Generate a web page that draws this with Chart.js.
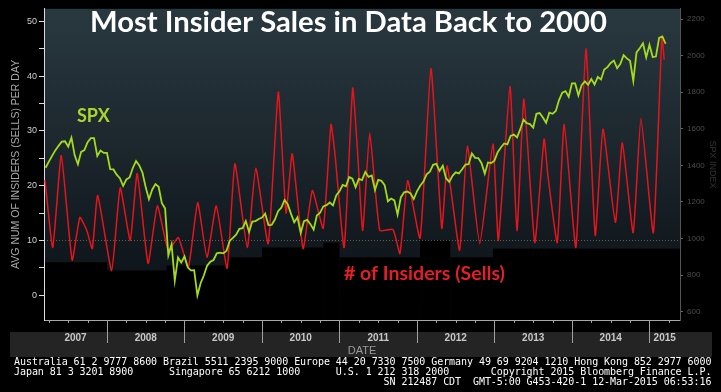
<!DOCTYPE html>
<html>
<head>
<meta charset="utf-8">
<script src="https://cdn.jsdelivr.net/npm/chart.js@4.4.1/dist/chart.umd.min.js"></script>
<style>
  html, body { margin: 0; padding: 0; background: #000; }
  #wrap { position: relative; width: 721px; height: 392px; overflow: hidden; }
  #chart { display: block; }
  #footer { position: absolute; left: 14px; top: 357px; margin: 0; color: #fff;
    font: 10px/10px "DejaVu Sans Mono", monospace; letter-spacing: -0.06px; white-space: pre; }
</style>
</head>
<body>
<div id="wrap">
  <canvas id="chart" width="721" height="392"></canvas>
  <pre id="footer"></pre>
</div>
<script>
const yearLabels = ["2007", "2008", "2009", "2010", "2011", "2012", "2013", "2014", "2015"];

// SPX, one value every half month starting mid-March 2007
const spxStart = 2007.208;
const spxValues = [
  1387, 1421, 1452, 1482, 1507, 1530, 1532, 1503, 1552, 1455, 1406, 1474, 1484, 1527, 1549, 1549, 1451, 1481, 1468, 1468,
  1380, 1378, 1349, 1330, 1288, 1323, 1334, 1386, 1424, 1400, 1360, 1280, 1215, 1267, 1298, 1283, 1193, 1165, 908, 969, 770, 896, 869, 903,
  843, 826, 827, 690, 756, 798, 852, 873, 883, 919, 923, 919, 932, 987, 1004, 1021, 1053, 1057, 1096, 1036, 1093, 1096, 1107, 1115,
  1136, 1074, 1075, 1104, 1150, 1169, 1211, 1187, 1135, 1089, 1116, 1031, 1095, 1102, 1079, 1049, 1126, 1141, 1176, 1183, 1197, 1181, 1236, 1258,
  1293, 1286, 1336, 1327, 1281, 1326, 1320, 1364, 1337, 1345, 1265, 1321, 1316, 1292, 1204, 1219, 1209, 1131, 1225, 1253, 1257, 1247, 1216, 1258,
  1289, 1312, 1351, 1366, 1403, 1408, 1370, 1398, 1330, 1310, 1343, 1362, 1356, 1379, 1405, 1407, 1465, 1441, 1440, 1412, 1355, 1416, 1413, 1426,
  1472, 1498, 1520, 1515, 1561, 1569, 1553, 1598, 1650, 1631, 1626, 1606, 1682, 1686, 1662, 1633, 1688, 1682, 1698, 1757, 1798, 1806, 1775, 1848,
  1848, 1783, 1838, 1859, 1841, 1872, 1842, 1884, 1870, 1924, 1937, 1960, 1973, 1931, 1955, 2003, 1985, 1972, 1862, 2018, 2040, 2068, 1990, 2059,
  1992, 1995, 2097, 2105, 2065
];

// avg number of insiders (sells) per day, turning points
const insDates = [
  2007.20, 2007.30, 2007.41, 2007.55, 2007.65, 2007.74, 2007.81, 2007.88,
  2008.06, 2008.17, 2008.30, 2008.39, 2008.53, 2008.65, 2008.79, 2008.92,
  2009.05, 2009.17, 2009.29, 2009.41, 2009.55, 2009.65, 2009.81, 2009.92,
  2010.08, 2010.21, 2010.31, 2010.39, 2010.53, 2010.65, 2010.79, 2010.89, 2010.94,
  2011.06, 2011.17, 2011.23, 2011.30, 2011.39, 2011.52, 2011.69, 2011.78, 2011.88,
  2012.04, 2012.18, 2012.32, 2012.39, 2012.55, 2012.65, 2012.81, 2012.98,
  2013.05, 2013.20, 2013.29, 2013.38, 2013.52, 2013.64, 2013.69, 2013.81, 2013.90,
  2014.05, 2014.18, 2014.30, 2014.40, 2014.56, 2014.65, 2014.79, 2014.89,
  2015.05, 2015.16, 2015.19
];
const insValues = [
  21.0, 8.7, 25.5, 6.4, 14.2, 11.8, 8.5, 18.2,
  4.5, 19.6, 10.0, 22.2, 5.8, 16.3, 8.2, 10.5,
  5.1, 16.9, 6.9, 16.3, 4.9, 24.0, 8.7, 23.2,
  9.4, 37.1, 15.0, 25.8, 8.5, 19.1, 12.2, 31.2, 26.0,
  8.7, 37.8, 26.9, 11.8, 29.6, 11.8, 12.0, 7.6, 20.9,
  10.4, 41.4, 12.2, 23.6, 8.2, 27.2, 9.4, 27.6,
  10.0, 38.1, 11.8, 35.8, 9.6, 28.5, 21.8, 9.6, 31.2,
  8.7, 45.0, 10.9, 30.3, 13.3, 27.8, 11.4, 32.3,
  11.4, 47.2, 43.0
];

// dark backdrop stops at these levels (left axis units) from each start year
const floorYears = [2007.19, 2008.0, 2008.77, 2009.52, 2010.0, 2010.79, 2011.0, 2012.04, 2012.43, 2012.98];
const floorLevels = [6.0, 4.5, 5.4, 6.9, 8.7, 9.6, 6.9, 10.0, 6.9, 8.5];

const footerLines = [
  "Australia 61 2 9777 8600 Brazil 5511 2395 9000 Europe 44 20 7330 7500 Germany 49 69 9204 1210 Hong Kong 852 2977 6000",
  "Japan 81 3 3201 8900      Singapore 65 6212 1000      U.S. 1 212 318 2000       Copyright 2015 Bloomberg Finance L.P.",
  "                                                              SN 212487 CDT  GMT-5:00 G453-420-1 12-Mar-2015 06:53:16"
];
document.getElementById("footer").textContent = footerLines.join("\n");

const xMin = 2007.187, xMax = 2015.394;

const backdrop = {
  id: "backdrop",
  beforeDraw(chart) {
    const { ctx, chartArea: a, scales: { x, y } } = chart;
    ctx.save();
    ctx.fillStyle = "#000";
    ctx.fillRect(0, 0, chart.width, chart.height);

    // date band under the axis
    ctx.fillStyle = "#242424";
    ctx.fillRect(10, a.bottom + 12, 702, 25);

    const g = ctx.createLinearGradient(0, a.top, 0, a.bottom);
    g.addColorStop(0, "#29383f");
    g.addColorStop(0.45, "#1c262d");
    g.addColorStop(0.8, "#10171d");
    g.addColorStop(1, "#0a0e12");
    ctx.fillStyle = g;
    ctx.fillRect(a.left, a.top, a.right - a.left, a.bottom - a.top);

    ctx.fillStyle = "#000";
    floorYears.forEach((yr, i) => {
      const x0 = Math.max(a.left, x.getPixelForValue(yr));
      const x1 = i + 1 < floorYears.length ? x.getPixelForValue(floorYears[i + 1]) : a.right;
      const top = y.getPixelForValue(floorLevels[i]);
      ctx.fillRect(x0, top, x1 - x0, a.bottom - top);
    });

    // dotted reference line at 10
    ctx.strokeStyle = "rgba(150,140,110,0.6)";
    ctx.setLineDash([1, 2]);
    ctx.lineWidth = 1;
    const y10 = Math.round(y.getPixelForValue(10)) + 0.5;
    ctx.beginPath();
    ctx.moveTo(a.left, y10);
    ctx.lineTo(a.right, y10);
    ctx.stroke();
    ctx.setLineDash([]);

    // quarter ticks and year separators
    ctx.strokeStyle = "#a0a0a0";
    ctx.beginPath();
    for (let q = Math.ceil(xMin * 4) / 4; q <= xMax; q += 0.25) {
      const px = Math.round(x.getPixelForValue(q)) + 0.5;
      const len = Number.isInteger(q) ? 23 : 3;
      ctx.moveTo(px, a.bottom);
      ctx.lineTo(px, a.bottom + len);
    }
    ctx.stroke();
    ctx.restore();
  },
  afterDraw(chart) {
    const ctx = chart.ctx;
    ctx.save();
    ctx.textBaseline = "alphabetic";
    ctx.textAlign = "left";

    const title = "Most Insider Sales in Data Back to 2000";
    ctx.font = "bold 26px Lato";
    let size = 26 * 517 / ctx.measureText(title).width;
    ctx.font = "bold " + size.toFixed(2) + "px Lato";
    ctx.fillStyle = "#ffffff";
    ctx.fillText(title, 90, 32);

    ctx.font = "bold 18px Lato";
    ctx.fillStyle = "#a9d62b";
    ctx.fillText("SPX", 77, 122);

    const lbl = "# of Insiders (Sells)";
    ctx.font = "bold 19px Lato";
    size = 19 * 161 / ctx.measureText(lbl).width;
    ctx.font = "bold " + size.toFixed(2) + "px Lato";
    ctx.fillStyle = "#e61e28";
    ctx.fillText(lbl, 344, 280);
    ctx.restore();
  }
};

new Chart(document.getElementById("chart"), {
  type: "line",
  data: {
    datasets: [
      {
        label: "SPX",
        data: spxValues.map((v, i) => ({ x: spxStart + i / 24, y: v })),
        yAxisID: "y1",
        borderColor: "#a4dc1c",
        borderWidth: 1.8,
        pointRadius: 0,
        tension: 0
      },
      {
        label: "# of Insiders (Sells)",
        data: insValues.map((v, i) => ({ x: insDates[i], y: v })),
        yAxisID: "y",
        borderColor: "#e8141c",
        borderWidth: 1.5,
        pointRadius: 0,
        tension: 0.15
      }
    ]
  },
  options: {
    responsive: false,
    animation: false,
    devicePixelRatio: 1,
    layout: { padding: { top: 7, left: 0, right: 0, bottom: 0 } },
    plugins: { legend: { display: false }, tooltip: { enabled: false } },
    scales: {
      x: {
        type: "linear",
        min: xMin,
        max: xMax,
        afterFit: (s) => { s.height = 72; },
        afterBuildTicks: (s) => {
          s.ticks = yearLabels.map((lab) => {
            const yr = Number(lab);
            const a = Math.max(yr, xMin), b = Math.min(yr + 1, xMax);
            return { value: (a + b) / 2 };
          });
        },
        grid: { display: false, drawTicks: false },
        border: { display: true, color: "#a8a8a8", width: 1 },
        ticks: {
          autoSkip: false,
          maxRotation: 0,
          padding: 12,
          color: "#c8c8c8",
          font: { family: "'Liberation Sans Narrow', 'Liberation Sans', sans-serif", size: 10, weight: "bold" },
          callback: (v, i) => yearLabels[i]
        },
        title: {
          display: true,
          text: "DATE",
          color: "#9a9a9a",
          font: { family: "'Liberation Sans Narrow', 'Liberation Sans', sans-serif", size: 11 },
          padding: { top: 0, bottom: 34 }
        }
      },
      y: {
        position: "left",
        min: -4.54,
        max: 52.3,
        afterFit: (s) => { s.width = 44; },
        grid: { drawOnChartArea: false, drawTicks: true, tickLength: 5, color: "#dddddd" },
        border: { color: "#dddddd", width: 1 },
        ticks: {
          stepSize: 5,
          includeBounds: false,
          autoSkip: false,
          padding: 2,
          color: "#cfcfcf",
          font: { family: "'Liberation Sans', sans-serif", size: 9 },
          callback: (v) => (v % 10 === 0 ? String(v) : "")
        },
        title: {
          display: true,
          text: "AVG NUM OF INSIDERS (SELLS) PER DAY",
          color: "#a8a8a8",
          font: { family: "'Liberation Sans Narrow', 'Liberation Sans', sans-serif", size: 10.5 },
          padding: { top: 10, bottom: 0 }
        }
      },
      y1: {
        position: "right",
        min: 555,
        max: 2256,
        afterFit: (s) => { s.width = 41; },
        grid: { drawOnChartArea: false, drawTicks: true, tickLength: 3, color: "#666666" },
        border: { color: "#555555", width: 1 },
        ticks: {
          stepSize: 200,
          includeBounds: false,
          autoSkip: false,
          padding: 4,
          color: "#4c4c4c",
          font: { family: "'Liberation Sans', sans-serif", size: 8 },
          callback: (v) => String(v)
        },
        title: {
          display: true,
          text: "SPX INDEX",
          color: "#343434",
          font: { family: "'Liberation Sans', sans-serif", size: 9 },
          padding: { top: 3, bottom: 0 }
        }
      }
    }
  },
  plugins: [backdrop]
});
</script>
</body>
</html>
